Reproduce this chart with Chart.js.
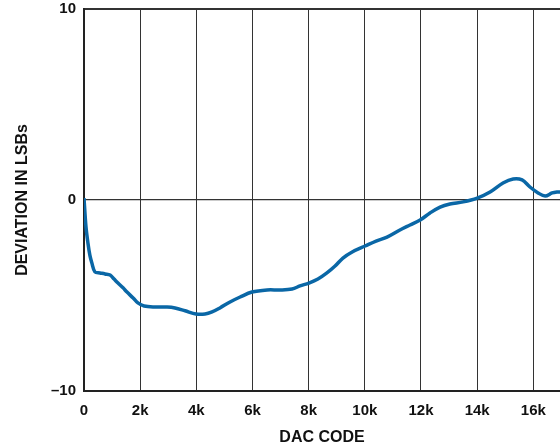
<!DOCTYPE html>
<html>
<head>
<meta charset="utf-8">
<script src="https://cdn.jsdelivr.net/npm/chart.js@4/dist/chart.umd.min.js"></script>
<style>
  html, body { margin: 0; padding: 0; background: #fff; overflow: hidden; }
</style>
</head>
<body>
<canvas id="chart-canvas" width="560" height="447"></canvas>
<script>
// DAC code (x) and deviation in LSBs (y)
const dacCodes = [
  0, 70, 140, 210, 280, 390, 570, 750, 930, 1070, 1210, 1390, 1530, 1750, 1920,
  2140, 2530, 2960, 3240, 3600, 3990, 4310, 4560, 4840, 5200, 5560, 5980, 6520,
  6980, 7410, 7690, 8010, 8330, 8650, 8940, 9220, 9550, 10010, 10400, 10790,
  11250, 11610, 11970, 12320, 12680, 13030, 13500, 14000, 14460, 14920, 15280,
  15600, 15880, 16170, 16420, 16670, 16840, 16950
];
const deviation = [
  0.1, -1.4, -2.25, -2.9, -3.3, -3.77, -3.82, -3.87, -3.93, -4.14, -4.35, -4.6,
  -4.82, -5.13, -5.39, -5.55, -5.6, -5.6, -5.65, -5.8, -5.97, -5.97, -5.86,
  -5.65, -5.34, -5.08, -4.82, -4.71, -4.71, -4.66, -4.5, -4.35, -4.14, -3.82,
  -3.46, -3.04, -2.72, -2.41, -2.15, -1.94, -1.57, -1.31, -1.05, -0.68, -0.37,
  -0.21, -0.1, 0.1, 0.42, 0.89, 1.1, 1.05, 0.68, 0.37, 0.21, 0.37, 0.42, 0.42
];

// tick positions
const xTicks = [0, 2000, 4000, 6000, 8000, 10000, 12000, 14000, 16000];
const yTicks = [-10, 0, 10];

const points = dacCodes.map((c, i) => ({ x: c, y: deviation[i] }));

const tickFont = { family: "'Liberation Sans', Arial, sans-serif", size: 15, weight: "bold" };
const titleFont = { family: "'Liberation Sans', Arial, sans-serif", size: 16, weight: "bold" };

const ctx = document.getElementById("chart-canvas").getContext("2d");
const myChart = new Chart(ctx, {
  type: "line",
  data: {
    datasets: [
      {
        data: points,
        borderColor: "#0a67a6",
        borderWidth: 3.5,
        pointRadius: 0,
        tension: 0.35,
        fill: false,
      },
    ],
  },
  options: {
    responsive: false,
    animation: false,
    layout: { padding: { top: 9, right: 0, left: 0, bottom: 0 } },
    plugins: {
      legend: { display: false },
      tooltip: { enabled: false },
    },
    scales: {
      x: {
        type: "linear",
        min: 0,
        max: 16950,
        afterFit: (scale) => { scale.height = 56; },
        afterBuildTicks: (scale) => { scale.ticks = xTicks.map((v) => ({ value: v })); },
        ticks: {
          autoSkip: false,
          color: "#111",
          font: tickFont,
          padding: 11,
          maxRotation: 0,
          callback: (v) => (v === 0 ? "0" : v / 1000 + "k"),
        },
        grid: { color: "#333", lineWidth: 1, drawTicks: false },
        border: { display: true, color: "#222", width: 2 },
        title: {
          display: true,
          text: "DAC CODE",
          color: "#111",
          font: titleFont,
          padding: { top: 2, bottom: 0 },
        },
      },
      y: {
        min: -10,
        max: 10,
        afterFit: (scale) => { scale.width = 84; },
        afterBuildTicks: (scale) => { scale.ticks = yTicks.map((v) => ({ value: v })); },
        ticks: {
          color: "#111",
          font: { ...tickFont, lineHeight: 0.1 },
          padding: 8,
          callback: (v) => String(v).replace("-", "\u2013"),
        },
        grid: {
          color: "#333",
          lineWidth: (c) => (c.tick && c.tick.value === 0 ? 1.2 : 2),
          drawTicks: false,
        },
        border: { display: true, color: "#222", width: 2 },
        title: {
          display: true,
          text: "DEVIATION IN LSBs",
          color: "#111",
          font: titleFont,
          padding: { top: 13, bottom: 0 },
        },
      },
    },
  },
});
</script>
</body>
</html>
